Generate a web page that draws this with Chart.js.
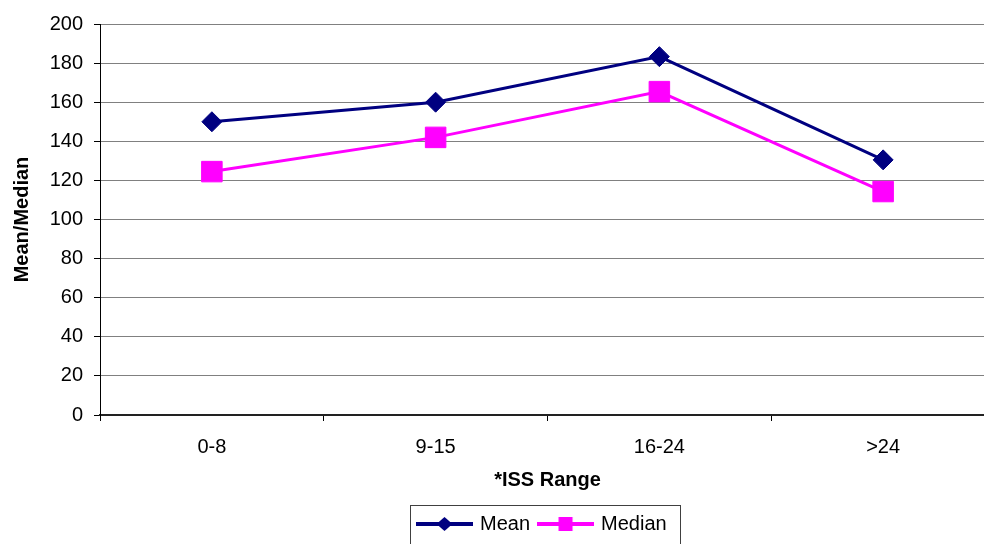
<!DOCTYPE html>
<html>
<head>
<meta charset="utf-8">
<script src="https://cdn.jsdelivr.net/npm/chart.js@4/dist/chart.umd.min.js"></script>
<style>
  html, body { margin: 0; padding: 0; background: #fff; overflow: hidden; }
  #wrap { position: relative; width: 1000px; height: 544px; }
</style>
</head>
<body>
<div id="wrap"><canvas id="c"></canvas></div>
<script>
const categories = ['0-8', '9-15', '16-24', '>24'];
const meanValues = [150, 160, 183.3, 130.5];
const medianValues = [124.5, 142, 165.4, 114.3];
const yTicks = [0, 20, 40, 60, 80, 100, 120, 140, 160, 180, 200];

const NAVY = '#000080';
const MAGENTA = '#FF00FF';

Chart.defaults.font.family = "'Liberation Sans', Arial, sans-serif";
Chart.defaults.color = '#000';

function legendIcon(color, shape) {
  const cv = document.createElement('canvas');
  cv.width = 57; cv.height = 18;
  const g = cv.getContext('2d');
  g.strokeStyle = color; g.lineWidth = 4;
  g.beginPath(); g.moveTo(0, 9); g.lineTo(57, 9); g.stroke();
  g.fillStyle = color;
  if (shape === 'diamond') {
    g.beginPath();
    g.moveTo(28.5 - 8, 9); g.lineTo(28.5, 2); g.lineTo(28.5 + 8, 9); g.lineTo(28.5, 16);
    g.closePath(); g.fill();
  } else {
    g.fillRect(28.5 - 7, 2, 14, 14);
  }
  return cv;
}
const icons = [legendIcon(NAVY, 'diamond'), legendIcon(MAGENTA, 'square')];

const layoutPlugin = {
  id: 'layoutTweaks',
  afterLayout(chart) {
    const lg = chart.legend;
    if (lg) { lg.left = 409; }
  },
  afterDraw(chart) {
    const lg = chart.legend;
    if (!lg || !lg.legendHitBoxes || !lg.legendHitBoxes.length) return;
    const hb = lg.legendHitBoxes;
    const first = hb[0], last = hb[hb.length - 1];
    const x1 = Math.round(first.left - 9) + 0.5;
    const x2 = Math.round(last.left + last.width + 13) + 0.5;
    const ctx = chart.ctx;
    ctx.save();
    ctx.strokeStyle = '#404040';
    ctx.lineWidth = 1;
    ctx.strokeRect(x1, 505.5, x2 - x1, 60);
    ctx.restore();
  }
};

new Chart(document.getElementById('c'), {
  type: 'line',
  data: {
    labels: categories,
    datasets: [
      {
        label: 'Mean',
        data: meanValues,
        borderColor: NAVY,
        backgroundColor: NAVY,
        borderWidth: 3,
        tension: 0,
        pointStyle: 'rectRot',
        pointRadius: 10,
        pointBorderWidth: 1,
        pointBackgroundColor: NAVY,
        pointBorderColor: NAVY
      },
      {
        label: 'Median',
        data: medianValues,
        borderColor: MAGENTA,
        backgroundColor: MAGENTA,
        borderWidth: 3,
        tension: 0,
        pointStyle: 'rect',
        pointRadius: 14.5,
        pointBorderWidth: 1,
        pointBackgroundColor: MAGENTA,
        pointBorderColor: MAGENTA
      }
    ]
  },
  options: {
    responsive: true,
    maintainAspectRatio: false,
    devicePixelRatio: 1,
    animation: false,
    layout: { autoPadding: false, padding: { top: 24, right: 5, left: 0, bottom: 0 } },
    plugins: {
      legend: {
        position: 'bottom',
        align: 'start',
        labels: {
          usePointStyle: true,
          pointStyleWidth: 51,
          padding: 10,
          color: '#000',
          font: { size: 20 },
          generateLabels(chart) {
            const items = Chart.defaults.plugins.legend.labels.generateLabels(chart);
            items.forEach((it, i) => { it.pointStyle = icons[i]; it.rotation = 0; });
            return items;
          }
        }
      },
      tooltip: { enabled: false }
    },
    scales: {
      x: {
        offset: true,
        grid: {
          offset: true,
          drawOnChartArea: false,
          drawTicks: true,
          tickLength: 6,
          color: '#000',
          tickColor: '#000'
        },
        border: { display: true, color: '#222', width: 2 },
        ticks: { font: { size: 20 }, color: '#000', padding: 14, maxRotation: 0 },
        title: {
          display: true,
          text: '*ISS Range',
          font: { size: 20, weight: 'bold', lineHeight: 1.2 },
          color: '#000',
          padding: { top: 0, bottom: 12 }
        },
        afterFit(scale) { scale.height = 89; }
      },
      y: {
        min: 0,
        max: 200,
        afterBuildTicks(scale) { scale.ticks = yTicks.map(v => ({ value: v })); },
        grid: {
          color: '#808080',
          lineWidth: 1,
          drawTicks: true,
          tickLength: 6,
          tickColor: '#000'
        },
        border: { display: true, color: '#000', width: 1 },
        ticks: { font: { size: 20 }, color: '#000', padding: 11 },
        title: {
          display: true,
          text: 'Mean/Median',
          font: { size: 20, weight: 'bold', lineHeight: 1 },
          color: '#000',
          padding: { top: 12, bottom: 0 }
        },
        afterFit(scale) { scale.width = 100; }
      }
    }
  },
  plugins: [layoutPlugin]
});
</script>
</body>
</html>
